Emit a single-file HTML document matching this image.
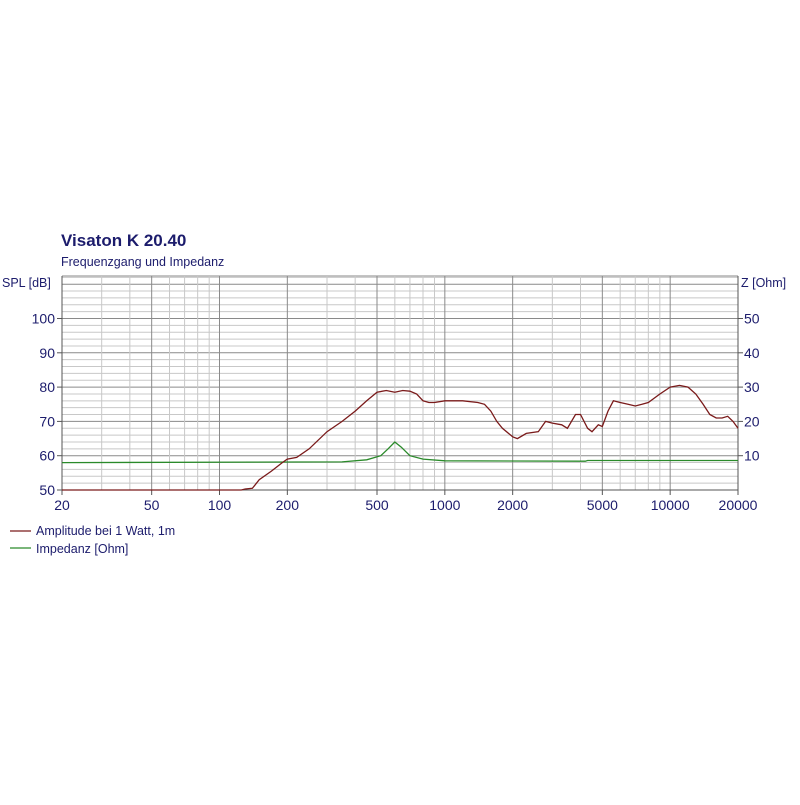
<!DOCTYPE html>
<html><head><meta charset="utf-8"><style>
body{margin:0;background:#fff;}
svg text{font-family:"Liberation Sans",sans-serif;fill:#1c1c6c;}
</style></head><body>
<svg id="s" width="800" height="800" xmlns="http://www.w3.org/2000/svg">
<text x="61" y="246" font-size="17" font-weight="bold" fill="#1c1c8c">Visaton K 20.40</text>
<text x="61" y="266" font-size="12.5">Frequenzgang und Impedanz</text>
<text x="2" y="287" font-size="12.5">SPL [dB]</text>
<text x="741" y="287" font-size="12.5">Z [Ohm]</text>
<g id="g"></g>
<line x1="10" y1="531" x2="31" y2="531" stroke="#7a1a1a" stroke-width="1.3"/>
<text x="36" y="535" font-size="12.5">Amplitude bei 1 Watt, 1m</text>
<line x1="10" y1="548" x2="31" y2="548" stroke="#2a8a2a" stroke-width="1.3"/>
<text x="36" y="553" font-size="12.5">Impedanz [Ohm]</text>
</svg>
<script>
var L=62,R=738,T=276,B=490;
function X(f){return L+(Math.log10(f)-Math.log10(20))*(R-L)/3;}
function Y(d){return B-(d-50)*3.43;}
var h='';
for(var d=50;d<=112;d+=2){var y=Y(d);if(y<T)break;var maj=(d%10==0);
h+='<line x1="'+L+'" x2="'+R+'" y1="'+y+'" y2="'+y+'" stroke="'+(maj?'#8a8a8a':'#c8c8c8')+'" stroke-width="1"/>';}
h+='<line x1="'+L+'" x2="'+R+'" y1="'+T+'" y2="'+T+'" stroke="#8a8a8a"/>';
var majors=[20,50,100,200,500,1000,2000,5000,10000];
for(var e=1;e<=4;e++)for(var m=1;m<=9;m++){var f=m*Math.pow(10,e);if(f<20||f>20000)continue;var x=X(f);
var mj=majors.indexOf(f)>=0;h+='<line x1="'+x+'" x2="'+x+'" y1="'+T+'" y2="'+B+'" stroke="'+(mj?'#8a8a8a':'#c8c8c8')+'"/>';}
h+='<line x1="'+L+'" x2="'+L+'" y1="'+T+'" y2="'+B+'" stroke="#555"/>';
h+='<line x1="'+R+'" x2="'+R+'" y1="'+T+'" y2="'+B+'" stroke="#555"/>';
h+='<line x1="'+L+'" x2="'+R+'" y1="'+B+'" y2="'+B+'" stroke="#555"/>';
for(var d=50;d<=100;d+=10){var y=Y(d);h+='<line x1="'+(L-5)+'" x2="'+L+'" y1="'+y+'" y2="'+y+'" stroke="#555"/><text x="'+(L-7)+'" y="'+(y+5)+'" font-size="14" text-anchor="end">'+d+'</text>';}
for(var z=10;z<=50;z+=10){var y=Y(z+50);h+='<line x1="'+R+'" x2="'+(R+5)+'" y1="'+y+'" y2="'+y+'" stroke="#555"/><text x="'+(R+6)+'" y="'+(y+5)+'" font-size="14">'+z+'</text>';}
[20,50,100,200,500,1000,2000,5000,10000,20000].forEach(function(f){var x=X(f);h+='<line x1="'+x+'" x2="'+x+'" y1="'+B+'" y2="'+(B+5)+'" stroke="#555"/><text x="'+x+'" y="'+(B+20)+'" font-size="14" text-anchor="middle">'+f+'</text>';});
var spl=[[20,50],[125,50],[130,50.3],[140,50.5],[150,53],[170,55.5],[190,58],[200,59],[220,59.5],[250,62],[300,67],[350,70],[400,73],[450,76],[500,78.5],[550,79],[600,78.5],[650,79],[700,78.8],[750,78],[800,76],[850,75.5],[900,75.5],[1000,76],[1200,76],[1400,75.5],[1500,75],[1600,73],[1700,70],[1800,68],[2000,65.5],[2100,65],[2300,66.5],[2600,67],[2800,70],[3000,69.5],[3300,69],[3500,68],[3800,72],[4000,72],[4300,68],[4500,67],[4800,69],[5000,68.5],[5300,73],[5600,76],[6000,75.5],[6500,75],[7000,74.5],[7500,75],[8000,75.5],[9000,78],[10000,80],[11000,80.5],[12000,80],[13000,78],[14000,75],[15000,72],[16000,71],[17000,71],[18000,71.5],[19000,70],[20000,68]];
var imp=[[20,8],[350,8.2],[450,8.8],[520,10],[560,12],[600,14],[640,12.5],[700,10],[800,9],[1000,8.5],[4200,8.4],[4300,8.6],[20000,8.6]];
function path(a,off){return a.map(function(p,i){return (i?'L':'M')+X(p[0]).toFixed(1)+','+Y(p[1]+off).toFixed(1);}).join('');}
h+='<path d="'+path(imp,50)+'" fill="none" stroke="#2a8a2a" stroke-width="1.3"/>';
h+='<path d="'+path(spl,0)+'" fill="none" stroke="#7a1a1a" stroke-width="1.3"/>';
document.getElementById('g').innerHTML=h;
</script>
</body></html>
